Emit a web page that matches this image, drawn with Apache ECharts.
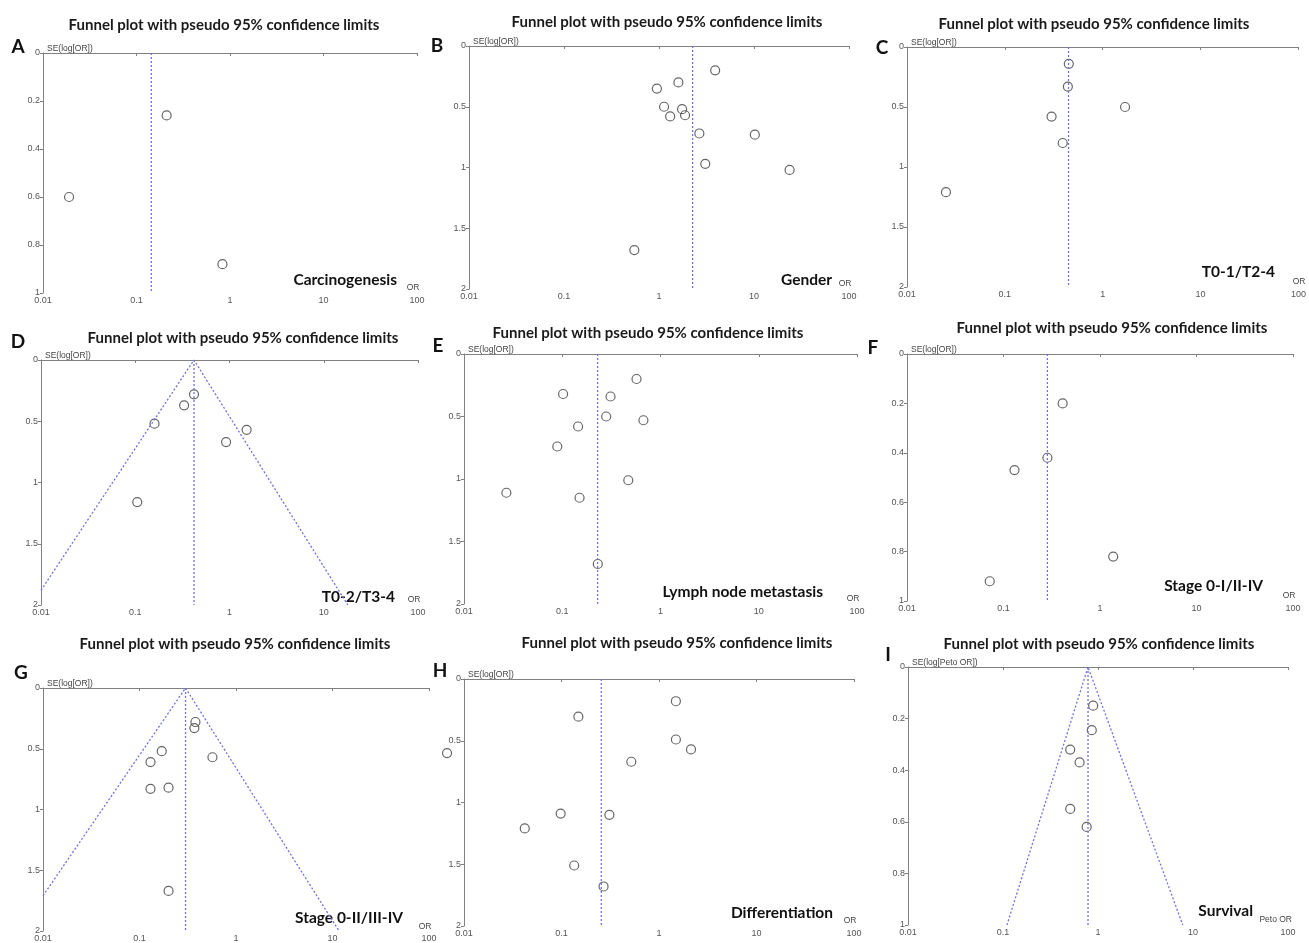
<!DOCTYPE html>
<html>
<head>
<meta charset="utf-8">
<script src="https://cdn.jsdelivr.net/npm/echarts@6/dist/echarts.min.js"></script>
<style>
  html, body { margin: 0; padding: 0; background: #fff; }
  #chart { width: 1309px; height: 943px; }
</style>
</head>
<body>
<div id="chart"></div>
<script>
// ---- data: [odds ratio, standard error of log OR] per study ----
const pointsA = [[0.21, 0.26], [0.019, 0.60], [0.83, 0.88]];
const pointsB = [[3.9, 0.20], [1.6, 0.30], [0.95, 0.35], [1.13, 0.50], [1.75, 0.52], [1.31, 0.58],
                 [1.88, 0.57], [2.66, 0.72], [10.2, 0.73], [3.07, 0.97], [23.7, 1.02], [0.55, 1.68]];
const pointsC = [[0.45, 0.14], [0.44, 0.33], [0.30, 0.58], [1.69, 0.50], [0.39, 0.80], [0.025, 1.21]];
const pointsD = [[0.16, 0.52], [0.33, 0.37], [0.42, 0.28], [1.52, 0.57], [0.92, 0.67], [0.105, 1.16]];
const pointsE = [[0.57, 0.20], [0.102, 0.32], [0.31, 0.34], [0.28, 0.50], [0.67, 0.53], [0.145, 0.58],
                 [0.089, 0.74], [0.47, 1.01], [0.027, 1.11], [0.15, 1.15], [0.23, 1.68]];
const pointsF = [[0.41, 0.20], [0.285, 0.42], [0.13, 0.47], [1.37, 0.82], [0.072, 0.92]];
const pointsG = [[0.38, 0.28], [0.37, 0.33], [0.17, 0.52], [0.57, 0.57], [0.13, 0.61],
                 [0.20, 0.82], [0.13, 0.83], [0.20, 1.67]];
const pointsH = [[1.49, 0.18], [0.149, 0.305], [1.49, 0.49], [2.13, 0.57], [0.52, 0.67], [0.0067, 0.60],
                 [0.098, 1.09], [0.31, 1.10], [0.042, 1.21], [0.135, 1.51], [0.27, 1.68]];
const pointsI = [[0.89, 0.15], [0.86, 0.245], [0.51, 0.32], [0.64, 0.37], [0.51, 0.55], [0.76, 0.62]];

// pooled estimate (vertical reference line) per panel
const pooledOR = [0.144, 2.26, 0.447, 0.42, 0.229, 0.285, 0.30, 0.256, 0.785];

// pseudo 95% confidence limits drawn for panels D, G and I: [lower end, apex, upper end]
const funnelD = [[0.01, 1.88], [0.42, 0], [18, 2]];
const funnelG = [[0.01, 1.71], [0.30, 0], [11.7, 2]];
const funnelI = [[0.11, 1], [0.785, 0], [7.8, 1]];

const panelLetters = ['A', 'B', 'C', 'D', 'E', 'F', 'G', 'H', 'I'];
const panelLabels = ['Carcinogenesis', 'Gender', 'T0-1/T2-4', 'T0-2/T3-4', 'Lymph node metastasis',
                     'Stage 0-I/II-IV', 'Stage 0-II/III-IV', 'Differentiation', 'Survival'];
const yAxisNames = ['SE(log[OR])', 'SE(log[OR])', 'SE(log[OR])', 'SE(log[OR])', 'SE(log[OR])',
                    'SE(log[OR])', 'SE(log[OR])', 'SE(log[OR])', 'SE(log[Peto OR])'];
const xAxisNames = ['OR', 'OR', 'OR', 'OR', 'OR', 'OR', 'OR', 'OR', 'Peto OR'];
const seMax = [1, 2, 2, 2, 2, 1, 2, 2, 1];
const seStep = [0.2, 0.5, 0.5, 0.5, 0.5, 0.2, 0.5, 0.5, 0.2];
const orTicks = [0.01, 0.1, 1, 10, 100];
const plotTitle = 'Funnel plot with pseudo 95% confidence limits';

const allPoints = [pointsA, pointsB, pointsC, pointsD, pointsE, pointsF, pointsG, pointsH, pointsI];
const funnels = { 3: funnelD, 6: funnelG, 8: funnelI };

// ---- layout ----
const grids = [
  { left: 43, top: 53, width: 374, height: 240 },
  { left: 469, top: 46, width: 380, height: 243 },
  { left: 907, top: 47, width: 396, height: 240 },
  { left: 41, top: 360, width: 377, height: 245 },
  { left: 464, top: 354, width: 393, height: 250 },
  { left: 907, top: 354, width: 386, height: 247 },
  { left: 43, top: 688, width: 386, height: 244 },
  { left: 464, top: 679, width: 390, height: 247 },
  { left: 908, top: 667, width: 380, height: 258 }
];
const titlePos = [[224, 25], [667, 22], [1094, 24], [243, 338], [648, 333], [1112, 328], [235, 644], [677, 643], [1099, 644]];
const letterPos = [[18, 47], [437, 46], [882, 48], [18, 342], [438, 346], [873, 348], [21, 673], [440, 671], [888, 655]];
const labelPos = [[397, 280], [832, 280], [1275, 272], [395, 597], [823, 592], [1263, 586], [403, 918], [833, 913], [1253, 911]];

const axisColor = '#808080';
const tickFont = '"Liberation Sans", Arial, sans-serif';
const headFont = 'Lato, "Open Sans", sans-serif';
const dashStyle = { color: '#7070e0', width: 1.3, type: [2, 2] };

const option = {
  animation: false,
  backgroundColor: '#ffffff',
  grid: grids.map(g => Object.assign({ containLabel: false }, g)),
  xAxis: grids.map((g, i) => ({
    type: 'log', logBase: 10, gridIndex: i, min: orTicks[0], max: orTicks[orTicks.length - 1],
    splitLine: { show: false },
    axisLine: { lineStyle: { color: axisColor, width: 1 } },
    axisTick: { length: 3, lineStyle: { color: axisColor } },
    axisLabel: { fontSize: 9, color: '#555', margin: 3, fontFamily: tickFont,
                 formatter: v => String(+Number(v).toPrecision(6)) }
  })),
  yAxis: grids.map((g, i) => ({
    type: 'value', gridIndex: i, inverse: true, min: 0, max: seMax[i], interval: seStep[i],
    splitLine: { show: false },
    axisLine: { show: true, lineStyle: { color: axisColor, width: 1 } },
    axisTick: { show: true, length: 3, lineStyle: { color: axisColor } },
    axisLabel: { fontSize: 9, color: '#555', margin: 3, fontFamily: tickFont,
                 formatter: v => String(+Number(v).toPrecision(6)) }
  })),
  series: [],
  graphic: []
};

allPoints.forEach((pts, i) => {
  // pooled estimate: vertical dashed line
  option.series.push({
    type: 'line', xAxisIndex: i, yAxisIndex: i, silent: true, showSymbol: false,
    data: [[pooledOR[i], 0], [pooledOR[i], seMax[i]]],
    lineStyle: dashStyle
  });
  if (funnels[i]) {
    option.series.push({
      type: 'line', xAxisIndex: i, yAxisIndex: i, silent: true, showSymbol: false,
      data: funnels[i], lineStyle: dashStyle
    });
  }
  option.series.push({
    type: 'scatter', xAxisIndex: i, yAxisIndex: i, silent: true, clip: false,
    symbol: 'circle', symbolSize: 9,
    itemStyle: { color: 'rgba(255,255,255,0)', borderColor: '#404040', borderWidth: 1.2 },
    data: pts
  });

  const g = grids[i];
  option.graphic.push(
    { type: 'text', x: titlePos[i][0], y: titlePos[i][1], silent: true,
      style: { text: plotTitle, fill: '#1a1a1a', font: 'bold 15px ' + headFont, align: 'center', verticalAlign: 'middle' } },
    { type: 'text', x: letterPos[i][0], y: letterPos[i][1], silent: true,
      style: { text: panelLetters[i], fill: '#111', font: 'bold 19px ' + headFont, align: 'center', verticalAlign: 'middle' } },
    { type: 'text', x: labelPos[i][0], y: labelPos[i][1], silent: true,
      style: { text: panelLabels[i], fill: '#111', font: 'bold 15.5px ' + headFont, align: 'right', verticalAlign: 'middle' } },
    { type: 'text', x: g.left + 4, y: g.top - 4, silent: true,
      style: { text: yAxisNames[i], fill: '#444', font: '8.5px ' + tickFont, align: 'left', verticalAlign: 'middle' } },
    { type: 'text', x: g.left + g.width + (i === 8 ? 4 : -4), y: g.top + g.height - 5, silent: true,
      style: { text: xAxisNames[i], fill: '#444', font: '8.5px ' + tickFont, align: i === 8 ? 'right' : 'center', verticalAlign: 'middle' } }
  );
});

const chart = echarts.init(document.getElementById('chart'), null, { renderer: 'canvas' });
chart.setOption(option);
</script>
</body>
</html>
